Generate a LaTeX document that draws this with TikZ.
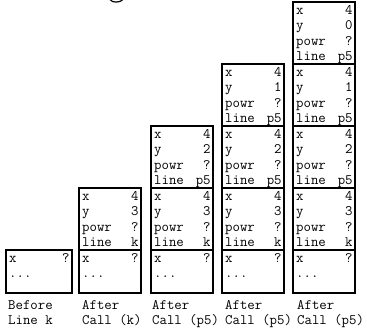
\documentclass[tikz,border=0pt]{standalone}
\newcommand\tfont{\ttfamily\fontsize{14.4}{16}\selectfont}
\newcommand\mkframe[5]{%
  % #1 name, #2 left x, #3 top y, #4 y value, #5 line value
  \node[frame, minimum width=62pt, minimum height=62pt] (#1) at (#2,#3) {};
  \node[fld] (#1nx) at ([xshift=4pt,yshift=-13.5pt]#1.north west) {x};
  \node[val] (#1vx) at ([xshift=-3pt,yshift=-13.5pt]#1.north east) {4};
  \node[fld] (#1ny) at ([xshift=4pt,yshift=-29pt]#1.north west) {y};
  \node[val] (#1vy) at ([xshift=-3pt,yshift=-29pt]#1.north east) {#4};
  \node[fld] (#1np) at ([xshift=4pt,yshift=-44.5pt]#1.north west) {powr};
  \node[val] (#1vp) at ([xshift=-3pt,yshift=-44.5pt]#1.north east) {?};
  \node[fld] (#1nl) at ([xshift=4pt,yshift=-59.5pt]#1.north west) {line};
  \node[val] (#1vl) at ([xshift=-3pt,yshift=-59.5pt]#1.north east) {#5};
}
\newcommand\mkbase[3]{%
  % #1 name, #2 left x, #3 width
  \node[frame, minimum width=#3, minimum height=43pt] (#1) at (#2,78) {};
  \node[fld] (#1nx) at ([xshift=4pt,yshift=-13.5pt]#1.north west) {x};
  \node[val] (#1vx) at ([xshift=-3pt,yshift=-13.5pt]#1.north east) {?};
  \node[fld] (#1nd) at ([xshift=4pt,yshift=-29pt]#1.north west) {...};
}
\begin{document}
\begin{tikzpicture}[x=1pt,y=1pt,
  frame/.style={draw, line width=1.8pt, inner sep=0pt, anchor=north west},
  fld/.style={font=\tfont, inner sep=0pt, anchor=base west},
  val/.style={font=\tfont, inner sep=0pt, anchor=base east},
  lbl/.style={font=\tfont, inner sep=0pt, anchor=base west}]
\useasboundingbox (0,0) rectangle (367,327);
% cropped glyph fragment at top edge
\draw[line width=1.2pt] (110,327.5) .. controls (112,324) and (120,324) .. (123,327.5);
% bottom boxes
\mkbase{b1}{5}{66pt}
\mkbase{b2}{78}{62pt}
\mkbase{b3}{150}{62pt}
\mkbase{b4}{221}{62pt}
\mkbase{b5}{292}{62pt}
% column 2
\mkframe{c2a}{78}{140}{3}{k}
% column 3
\mkframe{c3a}{150}{140}{3}{k}
\mkframe{c3b}{150}{202}{2}{p5}
% column 4
\mkframe{c4a}{221}{140}{3}{k}
\mkframe{c4b}{221}{202}{2}{p5}
\mkframe{c4c}{221}{264}{1}{p5}
% column 5
\mkframe{c5a}{292}{140}{3}{k}
\mkframe{c5b}{292}{202}{2}{p5}
\mkframe{c5c}{292}{264}{1}{p5}
\mkframe{c5d}{292}{326}{0}{p5}
% labels
\node[lbl] (l1a) at (8,18) {Before};
\node[lbl] (l1b) at (8,2.5) {Line k};
\node[lbl] (l2a) at (82,18) {After};
\node[lbl] (l2b) at (82,2.5) {Call (k)};
\node[lbl] (l3a) at (152,18) {After};
\node[lbl] (l3b) at (152,2.5) {Call (p5)};
\node[lbl] (l4a) at (225,18) {After};
\node[lbl] (l4b) at (225,2.5) {Call (p5)};
\node[lbl] (l5a) at (297,18) {After};
\node[lbl] (l5b) at (297,2.5) {Call (p5)};
\end{tikzpicture}
\end{document}
